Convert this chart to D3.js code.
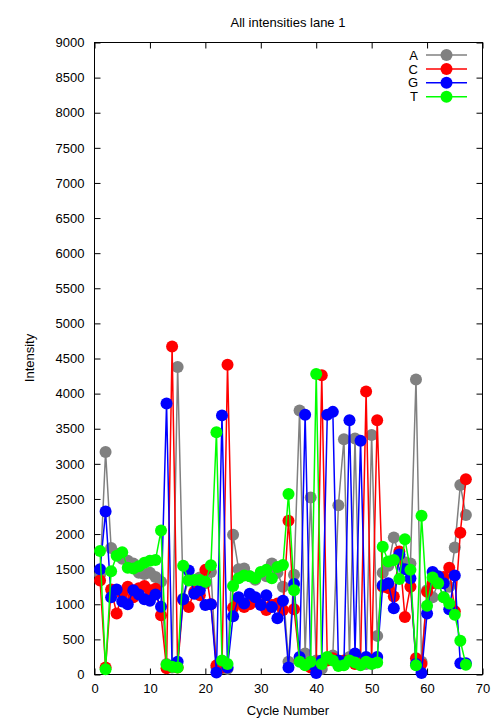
<!DOCTYPE html>
<html><head><meta charset="utf-8">
<script src="https://cdn.jsdelivr.net/npm/d3@7"></script>
<style>body{margin:0;background:#fff}svg{display:block}text{font-family:"Liberation Sans",Arial,sans-serif;fill:#000}</style>
</head><body>
<svg id="c" width="504" height="720"></svg>
<script>
const cycles = d3.range(1, 68);
const seriesNames = ["A", "C", "G", "T"];
const seriesColors = ["#808080", "#ff0000", "#0000ff", "#00ff00"];
const valuesA = [1420,3170,1800,1720,1650,1620,1580,1450,1430,1450,1390,1320,
  150,100,4380,1080,1350,1320,1380,1300,1460,100,90,80,1990,1500,1510,1400,1350,1450,
  1400,1580,1450,1250,180,1420,3760,300,2520,200,80,220,270,2410,3350,250,3360,200,150,3410,
  550,1450,1550,1950,1700,1600,1580,4200,180,1200,1100,1300,1100,1250,1810,2700,2270];
const valuesC = [1340,100,1210,870,1150,1250,1100,1230,1260,1200,1220,845,
  90,4670,100,1060,960,1180,1130,1490,1000,130,100,4410,950,1050,960,1000,1050,1000,
  920,990,1010,920,2190,930,200,150,100,120,4260,200,230,150,200,200,150,200,4030,180,
  3620,1250,1230,1110,1750,820,1250,230,150,1180,1300,1350,1390,1520,900,2020,2780];
const valuesG = [1500,2320,1100,1210,1040,1000,1200,1140,1070,1050,1140,965,
  3860,120,180,1070,1480,1150,1200,990,1000,30,3690,100,830,1100,1010,1150,1100,990,
  1130,960,800,1050,100,1290,250,3700,150,20,200,3700,3740,200,150,3620,300,3330,250,200,
  250,1270,1300,945,1710,1500,1370,150,20,870,1460,1400,1300,930,1410,160,160];
const valuesT = [1760,75,1470,1690,1740,1520,1510,1540,1590,1620,1630,2050,
  140,110,100,1550,1340,1345,1345,1320,1555,3450,200,150,1260,1370,1410,1400,1370,1460,
  1490,1370,1530,1560,2570,1200,180,130,180,4280,150,250,200,120,130,200,170,130,180,150,
  170,1820,1610,1630,1360,1925,1490,130,2260,980,1380,1300,1100,1010,850,480,140];
const allSeries = [valuesA, valuesC, valuesG, valuesT];
const xTicks = d3.range(0, 71, 10);
const yTicks = d3.range(0, 9001, 500);

const svg = d3.select("#c");
const L = 94.5, R = 482.5, T = 42.5, B = 674.5;
const x = d3.scaleLinear().domain([0, 70]).range([L, R]);
const y = d3.scaleLinear().domain([0, 9000]).range([B, T]);

const fs = "13px";
svg.append("g").attr("transform", `translate(0,${B})`)
  .call(d3.axisBottom(x).tickValues(xTicks).tickSize(-6).tickPadding(9).tickFormat(d3.format("d")))
  .call(g => { g.select(".domain").remove(); g.selectAll("text").style("font-size", fs); });
svg.append("g").attr("transform", `translate(0,${T})`)
  .call(d3.axisTop(x).tickValues(xTicks).tickSize(-6).tickFormat(""))
  .call(g => g.select(".domain").remove());
svg.append("g").attr("transform", `translate(${L},0)`)
  .call(d3.axisLeft(y).tickValues(yTicks).tickSize(-6).tickPadding(10).tickFormat(d3.format("d")))
  .call(g => { g.select(".domain").remove(); g.selectAll("text").style("font-size", fs); });
svg.append("g").attr("transform", `translate(${R},0)`)
  .call(d3.axisRight(y).tickValues(yTicks).tickSize(-6).tickFormat(""))
  .call(g => g.select(".domain").remove());
svg.append("rect").attr("x", L).attr("y", T).attr("width", R - L).attr("height", B - T)
  .attr("fill", "none").attr("stroke", "#000").attr("stroke-width", 1);

const line = d3.line().x((d, i) => x(cycles[i])).y(d => y(d));
allSeries.forEach((vals, k) => {
  const g = svg.append("g");
  g.append("path").datum(vals).attr("d", line).attr("fill", "none")
    .attr("stroke", seriesColors[k]).attr("stroke-width", 1.5);
  g.selectAll("circle").data(vals).join("circle")
    .attr("cx", (d, i) => x(cycles[i])).attr("cy", d => y(d)).attr("r", 6)
    .attr("fill", seriesColors[k]);
});

seriesNames.forEach((n, k) => {
  const ly = 55 + k * 13.9;
  svg.append("text").attr("x", 418).attr("y", ly).attr("dy", "0.36em")
    .attr("text-anchor", "end").style("font-size", fs).text(n);
  svg.append("line").attr("x1", 426).attr("x2", 467).attr("y1", ly).attr("y2", ly)
    .attr("stroke", seriesColors[k]).attr("stroke-width", 1.5);
  svg.append("circle").attr("cx", 446.5).attr("cy", ly).attr("r", 6).attr("fill", seriesColors[k]);
});

svg.append("text").attr("x", 288).attr("y", 27).attr("text-anchor", "middle").style("font-size", fs).text("All intensities lane 1");
svg.append("text").attr("x", 288).attr("y", 715).attr("text-anchor", "middle").style("font-size", fs).text("Cycle Number");
svg.append("text").attr("transform", "translate(34,358) rotate(-90)").attr("text-anchor", "middle").style("font-size", fs).text("Intensity");
</script>
</body></html>
